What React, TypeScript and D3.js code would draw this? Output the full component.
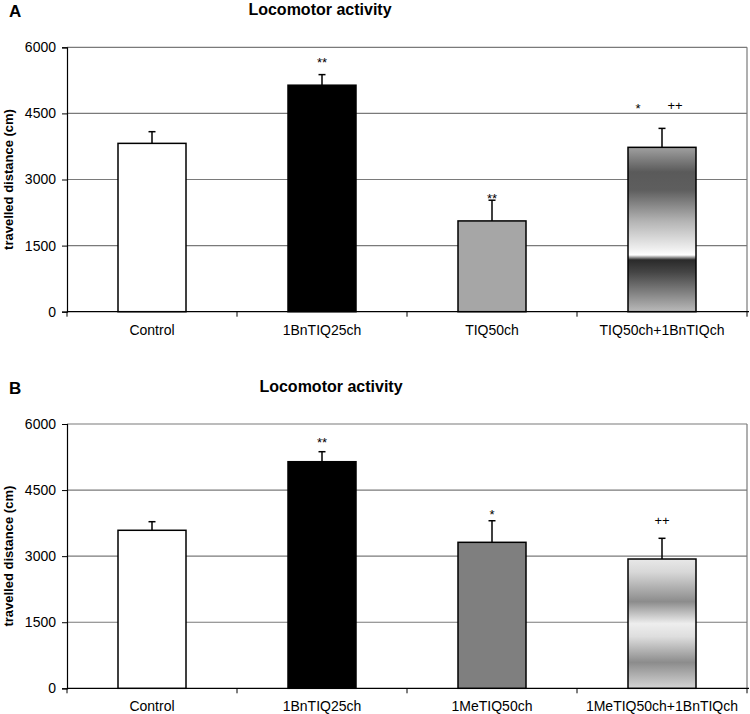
import React, { useEffect, useRef } from 'react';
import * as d3 from 'd3';

// Panel A
const categoriesA = ['Control', '1BnTIQ25ch', 'TIQ50ch', 'TIQ50ch+1BnTIQch'];
const meansA = [3820, 5140, 2060, 3730];
const errorsA = [265, 240, 470, 430];
const fillsA = ['#ffffff', '#000000', '#a6a6a6', 'url(#gradA)'];
const marksA = [
  [],
  [{ text: '**', value: 5546, dx: 0 }],
  [{ text: '**', value: 2476, dx: 0 }],
  [
    { text: '*', value: 4516, dx: -24 },
    { text: '++', value: 4588, dx: 13 },
  ],
];

// Panel B
const categoriesB = ['Control', '1BnTIQ25ch', '1MeTIQ50ch', '1MeTIQ50ch+1BnTIQch'];
const meansB = [3587, 5144, 3314, 2935];
const errorsB = [195, 227, 490, 470];
const fillsB = ['#ffffff', '#000000', '#7f7f7f', 'url(#gradB)'];
const marksB = [
  [],
  [{ text: '**', value: 5471, dx: 0 }],
  [{ text: '*', value: 3843, dx: 0 }],
  [{ text: '++', value: 3696, dx: 0 }],
];

const yTicks = [0, 1500, 3000, 4500, 6000];
const title = 'Locomotor activity';
const yLabel = 'travelled distance (cm)';

// gradient stops (offset, grey)
const gradStopsA: [number, string][] = [
  [0, '#a0a0a0'],
  [0.15, '#5a5a5a'],
  [0.26, '#5e5e5e'],
  [0.45, '#b4b4b4'],
  [0.62, '#f0f0f0'],
  [0.655, '#ffffff'],
  [0.685, '#2a2a2a'],
  [0.76, '#454545'],
  [1, '#bababa'],
];
const gradStopsB: [number, string][] = [
  [0, '#e8e8e8'],
  [0.1, '#d8d8d8'],
  [0.33, '#8c8c8c'],
  [0.5, '#eeeeee'],
  [0.6, '#dedede'],
  [0.8, '#8c8c8c'],
  [1, '#d4d4d4'],
];

const W = 750;
const H = 714;
const FONT = '"Liberation Sans", Arial, sans-serif';

const App = () => {
  const ref = useRef<SVGSVGElement>(null);

  useEffect(() => {
    const svg = d3.select(ref.current);
    svg.selectAll('*').remove();

    const defs = svg.append('defs');
    const addGrad = (id: string, stops: [number, string][]) => {
      const g = defs.append('linearGradient').attr('id', id)
        .attr('x1', 0).attr('y1', 0).attr('x2', 0).attr('y2', 1);
      stops.forEach(([o, c]) => g.append('stop').attr('offset', o).attr('stop-color', c));
    };
    addGrad('gradA', gradStopsA);
    addGrad('gradB', gradStopsB);

    const drawPanel = (
      letter: string, top: number, bottom: number, titleX: number,
      cats: string[], means: number[], errs: number[], fills: string[], marks: any[][],
    ) => {
      const left = 67;
      const right = 747;
      const g = svg.append('g');

      const x = d3.scaleBand().domain(cats).range([left, right]).padding(0);
      const y = d3.scaleLinear().domain([0, 6000]).range([bottom, top]);
      const barW = x.bandwidth() * 0.4;

      // letter + title
      g.append('text').attr('x', 9).attr('y', top - 30)
        .attr('font-family', FONT).attr('font-weight', 'bold').attr('font-size', 17)
        .text(letter);
      g.append('text').attr('x', titleX).attr('y', top - 32)
        .attr('text-anchor', 'middle')
        .attr('font-family', FONT).attr('font-weight', 'bold').attr('font-size', 16)
        .text(title);

      // gridlines
      g.selectAll('line.grid').data(yTicks.filter(t => t > 0)).enter().append('line')
        .attr('x1', left).attr('x2', right)
        .attr('y1', d => y(d)).attr('y2', d => y(d))
        .attr('stroke', '#7a7a7a').attr('stroke-width', 1.2);
      // right border
      g.append('line').attr('x1', right).attr('x2', right).attr('y1', top).attr('y2', bottom)
        .attr('stroke', '#7a7a7a').attr('stroke-width', 1.2);

      // y axis
      const yAxis = d3.axisLeft(y).tickValues(yTicks).tickFormat(d3.format('d')).tickSize(5).tickPadding(6);
      const ya = g.append('g').attr('transform', `translate(${left},0)`).call(yAxis);
      ya.select('.domain').attr('stroke', '#000').attr('stroke-width', 1.2);
      ya.selectAll('.tick line').attr('stroke', '#000');
      ya.selectAll('.tick text').attr('font-family', FONT).attr('font-size', 14).attr('fill', '#000');

      // x axis
      const xa = g.append('g').attr('transform', `translate(0,${bottom})`);
      xa.append('line').attr('x1', left).attr('x2', right + 2).attr('y1', 0).attr('y2', 0)
        .attr('stroke', '#000').attr('stroke-width', 1.2);
      const bounds = cats.map(c => x(c)!).concat([right]);
      xa.selectAll('line.tk').data(bounds).enter().append('line')
        .attr('x1', d => d).attr('x2', d => d).attr('y1', 0).attr('y2', 5)
        .attr('stroke', '#000');
      xa.selectAll('text').data(cats).enter().append('text')
        .attr('x', d => x(d)! + x.bandwidth() / 2).attr('y', 23)
        .attr('text-anchor', 'middle')
        .attr('font-family', FONT).attr('font-size', 14)
        .text(d => d);

      // y label
      g.append('text')
        .attr('transform', `translate(13,${(top + bottom) / 2}) rotate(-90)`)
        .attr('text-anchor', 'middle')
        .attr('font-family', FONT).attr('font-weight', 'bold').attr('font-size', 13)
        .text(yLabel);

      // bars
      cats.forEach((c, i) => {
        const cx = x(c)! + x.bandwidth() / 2;
        // error bar
        g.append('line').attr('x1', cx).attr('x2', cx)
          .attr('y1', y(means[i])).attr('y2', y(means[i] + errs[i]))
          .attr('stroke', '#000').attr('stroke-width', 1.5);
        g.append('line').attr('x1', cx - 3.5).attr('x2', cx + 3.5)
          .attr('y1', y(means[i] + errs[i])).attr('y2', y(means[i] + errs[i]))
          .attr('stroke', '#000').attr('stroke-width', 1.5);
        g.append('rect')
          .attr('x', cx - barW / 2).attr('width', barW)
          .attr('y', y(means[i])).attr('height', y(0) - y(means[i]))
          .attr('fill', fills[i]).attr('stroke', '#000').attr('stroke-width', 1.5);
        marks[i].forEach(m => {
          g.append('text').attr('x', cx + m.dx).attr('y', y(m.value))
            .attr('text-anchor', 'middle')
            .attr('font-family', FONT).attr('font-size', 13)
            .text(m.text);
        });
      });
    };

    drawPanel('A', 47.3, 311.7, 320, categoriesA, meansA, errorsA, fillsA, marksA);
    drawPanel('B', 424, 688.3, 331, categoriesB, meansB, errorsB, fillsB, marksB);
  }, []);

  return (
    <div style={{ position: 'absolute', top: 0, left: 0, width: W, height: H, background: '#fff' }}>
      <svg ref={ref} width={W} height={H} />
    </div>
  );
};

export default App;
